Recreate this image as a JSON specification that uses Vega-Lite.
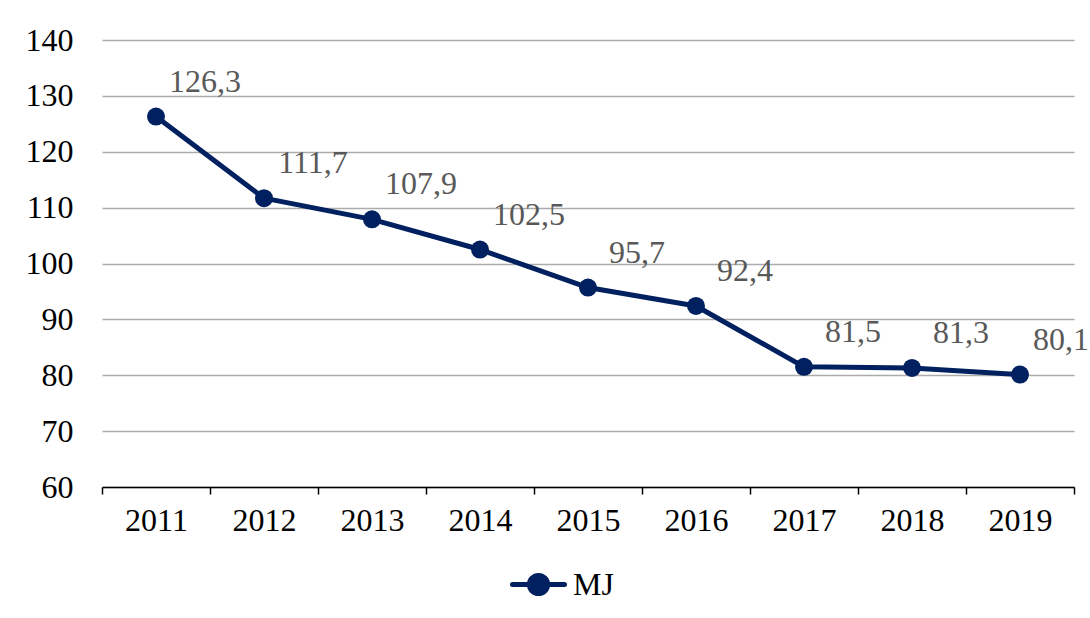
{
  "$schema": "https://vega.github.io/schema/vega-lite/v6.json",
  "width": 972,
  "height": 447,
  "autosize": {"type": "none"},
  "padding": {"left": 102, "top": 40, "right": 16, "bottom": 131},
  "background": "white",
  "config": {
    "view": {"stroke": null},
    "font": "Liberation Serif"
  },
  "data": {
    "values": [
      {"year": "2011", "value": 126.3, "label": "126,3", "series": "MJ"},
      {"year": "2012", "value": 111.7, "label": "111,7", "series": "MJ"},
      {"year": "2013", "value": 107.9, "label": "107,9", "series": "MJ"},
      {"year": "2014", "value": 102.5, "label": "102,5", "series": "MJ"},
      {"year": "2015", "value": 95.7, "label": "95,7", "series": "MJ"},
      {"year": "2016", "value": 92.4, "label": "92,4", "series": "MJ"},
      {"year": "2017", "value": 81.5, "label": "81,5", "series": "MJ"},
      {"year": "2018", "value": 81.3, "label": "81,3", "series": "MJ"},
      {"year": "2019", "value": 80.13, "label": "80,13", "series": "MJ"}
    ]
  },
  "encoding": {
    "x": {
      "field": "year",
      "type": "ordinal",
      "scale": {"type": "band", "paddingInner": 0, "paddingOuter": 0},
      "axis": {
        "title": null,
        "labelAngle": 0,
        "tickBand": "extent",
        "domainColor": "#000000",
        "domainWidth": 1.5,
        "tickColor": "#000000",
        "tickWidth": 1.5,
        "tickSize": 7,
        "labelFont": "Liberation Serif",
        "labelFontSize": 32,
        "labelColor": "#000000",
        "labelPadding": 11,
        "grid": false
      }
    },
    "y": {
      "field": "value",
      "type": "quantitative",
      "scale": {"domain": [60, 140], "nice": false, "zero": false},
      "axis": {
        "title": null,
        "values": [60, 70, 80, 90, 100, 110, 120, 130, 140],
        "domain": false,
        "ticks": false,
        "grid": true,
        "gridColor": "#ababab",
        "gridWidth": 1.5,
        "labelFont": "Liberation Serif",
        "labelFontSize": 32,
        "labelColor": "#000000",
        "labelPadding": 29
      }
    }
  },
  "layer": [
    {
      "mark": {"type": "line", "strokeWidth": 5, "strokeJoin": "round", "strokeCap": "round"},
      "encoding": {
        "color": {
          "field": "series",
          "type": "nominal",
          "scale": {"range": ["#002060"]},
          "legend": {
            "title": null,
            "orient": "none",
            "legendX": 408,
            "legendY": 516,
            "symbolType": "M-1,0H1M-0.35,0A0.35,0.35,0,1,1,0.35,0A0.35,0.35,0,1,1,-0.35,0Z",
            "symbolSize": 2704,
            "symbolStrokeWidth": 5,
            "labelFont": "Liberation Serif",
            "labelFontSize": 32,
            "labelColor": "#000000",
            "labelOffset": 6,
            "encode": {
              "symbols": {
                "update": {
                  "fill": {"value": "#002060"},
                  "stroke": {"value": "#002060"},
                  "strokeCap": {"value": "round"},
                  "opacity": {"value": 1}
                }
              }
            }
          }
        }
      }
    },
    {
      "mark": {"type": "point", "filled": true, "size": 324, "opacity": 1, "color": "#002060"}
    },
    {
      "mark": {
        "type": "text",
        "dx": 49,
        "dy": -35,
        "fontSize": 32,
        "font": "Liberation Serif",
        "color": "#595959"
      },
      "encoding": {"text": {"field": "label"}}
    }
  ]
}
